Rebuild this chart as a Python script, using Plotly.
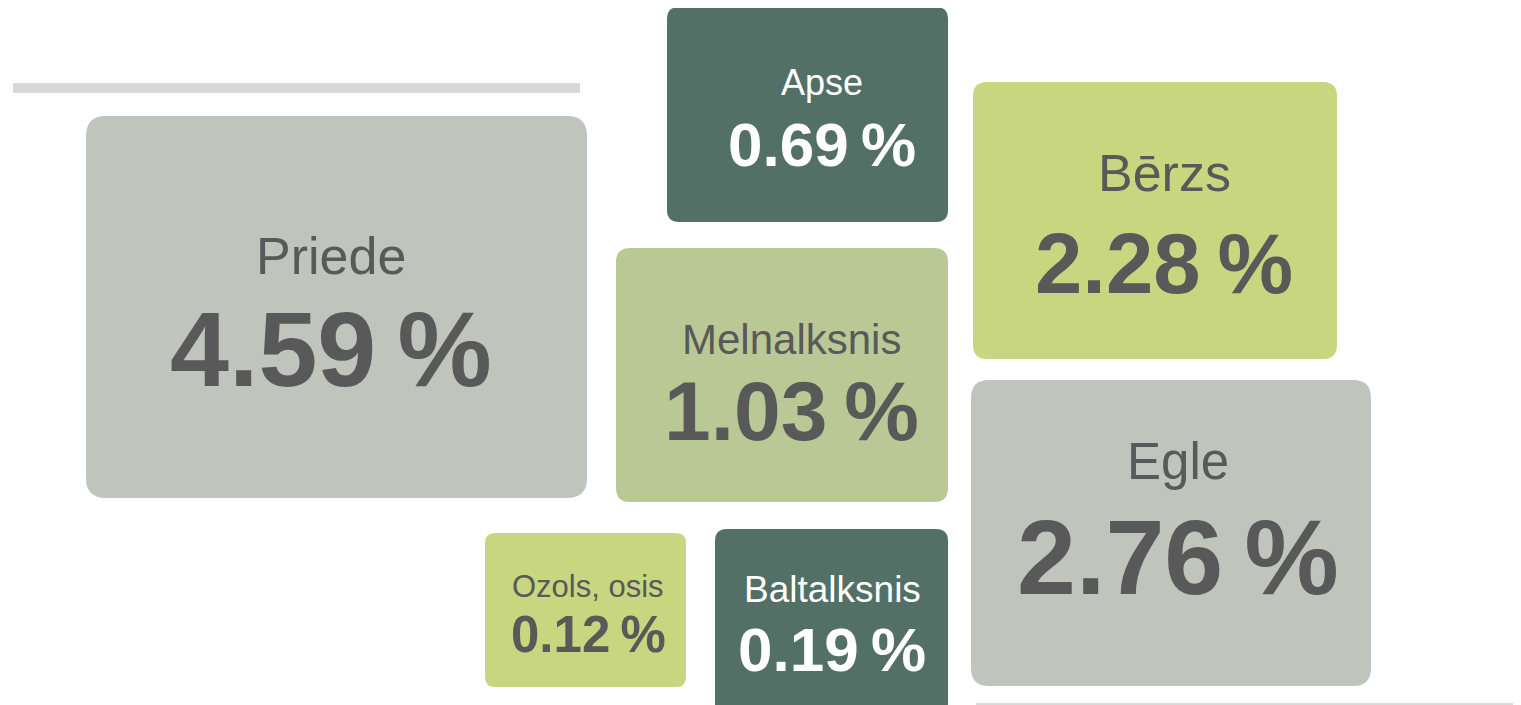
import plotly.graph_objects as go

# data
species = ["Priede", "Apse", "Bērzs", "Melnalksnis", "Egle", "Ozols, osis", "Baltalksnis"]
share_pct = [4.59, 0.69, 2.28, 1.03, 2.76, 0.12, 0.19]

# tile layout (pixel space: x0, y0, x1, y1, corner radius)
tiles = [
    (86, 116, 587, 498, 20),
    (667, 7, 948, 222, 12),
    (973, 82, 1337, 359, 14),
    (616, 248, 948, 502, 14),
    (971, 380, 1371, 686, 18),
    (485, 533, 686, 687, 10),
    (715, 529, 948, 716, 12),
]
fills = ["#BFC4BD", "#537067", "#C8D77F", "#BAC896", "#BFC4BD", "#C8D77F", "#537067"]
text_cols = ["#595959", "#FFFFFF", "#595959", "#595959", "#595959", "#595959", "#FFFFFF"]
# label centre x, name y, value y, name size, value size
labels = [
    (331, 256, 349, 52, 106),
    (822, 82, 144, 36, 62),
    (1164, 173, 263, 52, 85),
    (791, 339, 411, 42, 84),
    (1178, 461, 557, 51, 106),
    (588, 586, 634, 31, 51),
    (832, 589, 649, 37, 62),
]

W, H = 1521, 705
PAD = 8  # page body margin
FONT = "Liberation Sans, Arial, sans-serif"


def rounded(x0, y0, x1, y1, r):
    return (f"M{x0+r},{y0} L{x1-r},{y0} Q{x1},{y0} {x1},{y0+r} "
            f"L{x1},{y1-r} Q{x1},{y1} {x1-r},{y1} L{x0+r},{y1} "
            f"Q{x0},{y1} {x0},{y1-r} L{x0},{y0+r} Q{x0},{y0} {x0+r},{y0} Z")


fig = go.Figure()
shapes = [
    dict(type="line", x0=13, x1=580, y0=88, y1=88, line=dict(color="#D9D9D9", width=10)),
    dict(type="line", x0=976, x1=1530, y0=704, y1=704, line=dict(color="#D9D9D9", width=2)),
]
annotations = []
for name, val, (x0, y0, x1, y1, r), fc, tc, (cx, ny, vy, ns, vs) in zip(
        species, share_pct, tiles, fills, text_cols, labels):
    shapes.append(dict(type="path", path=rounded(x0, y0, x1, y1, r), fillcolor=fc,
                       line=dict(width=0), layer="below"))
    annotations.append(dict(x=cx, y=ny, text=name, showarrow=False, xanchor="center",
                            yanchor="middle", font=dict(family=FONT, size=ns, color=tc)))
    annotations.append(dict(x=cx, y=vy, text=f"<b>{val:.2f}\u2009%</b>", showarrow=False,
                            xanchor="center", yanchor="middle",
                            font=dict(family=FONT, size=vs, color=tc)))

fig.update_layout(
    width=W, height=H,
    margin=dict(l=0, r=0, t=0, b=0),
    paper_bgcolor="white", plot_bgcolor="white",
    xaxis=dict(range=[PAD, W + PAD], visible=False, fixedrange=True),
    yaxis=dict(range=[H + PAD, PAD], visible=False, fixedrange=True),
    shapes=shapes, annotations=annotations, showlegend=False,
)

fig.write_html("out.html")
